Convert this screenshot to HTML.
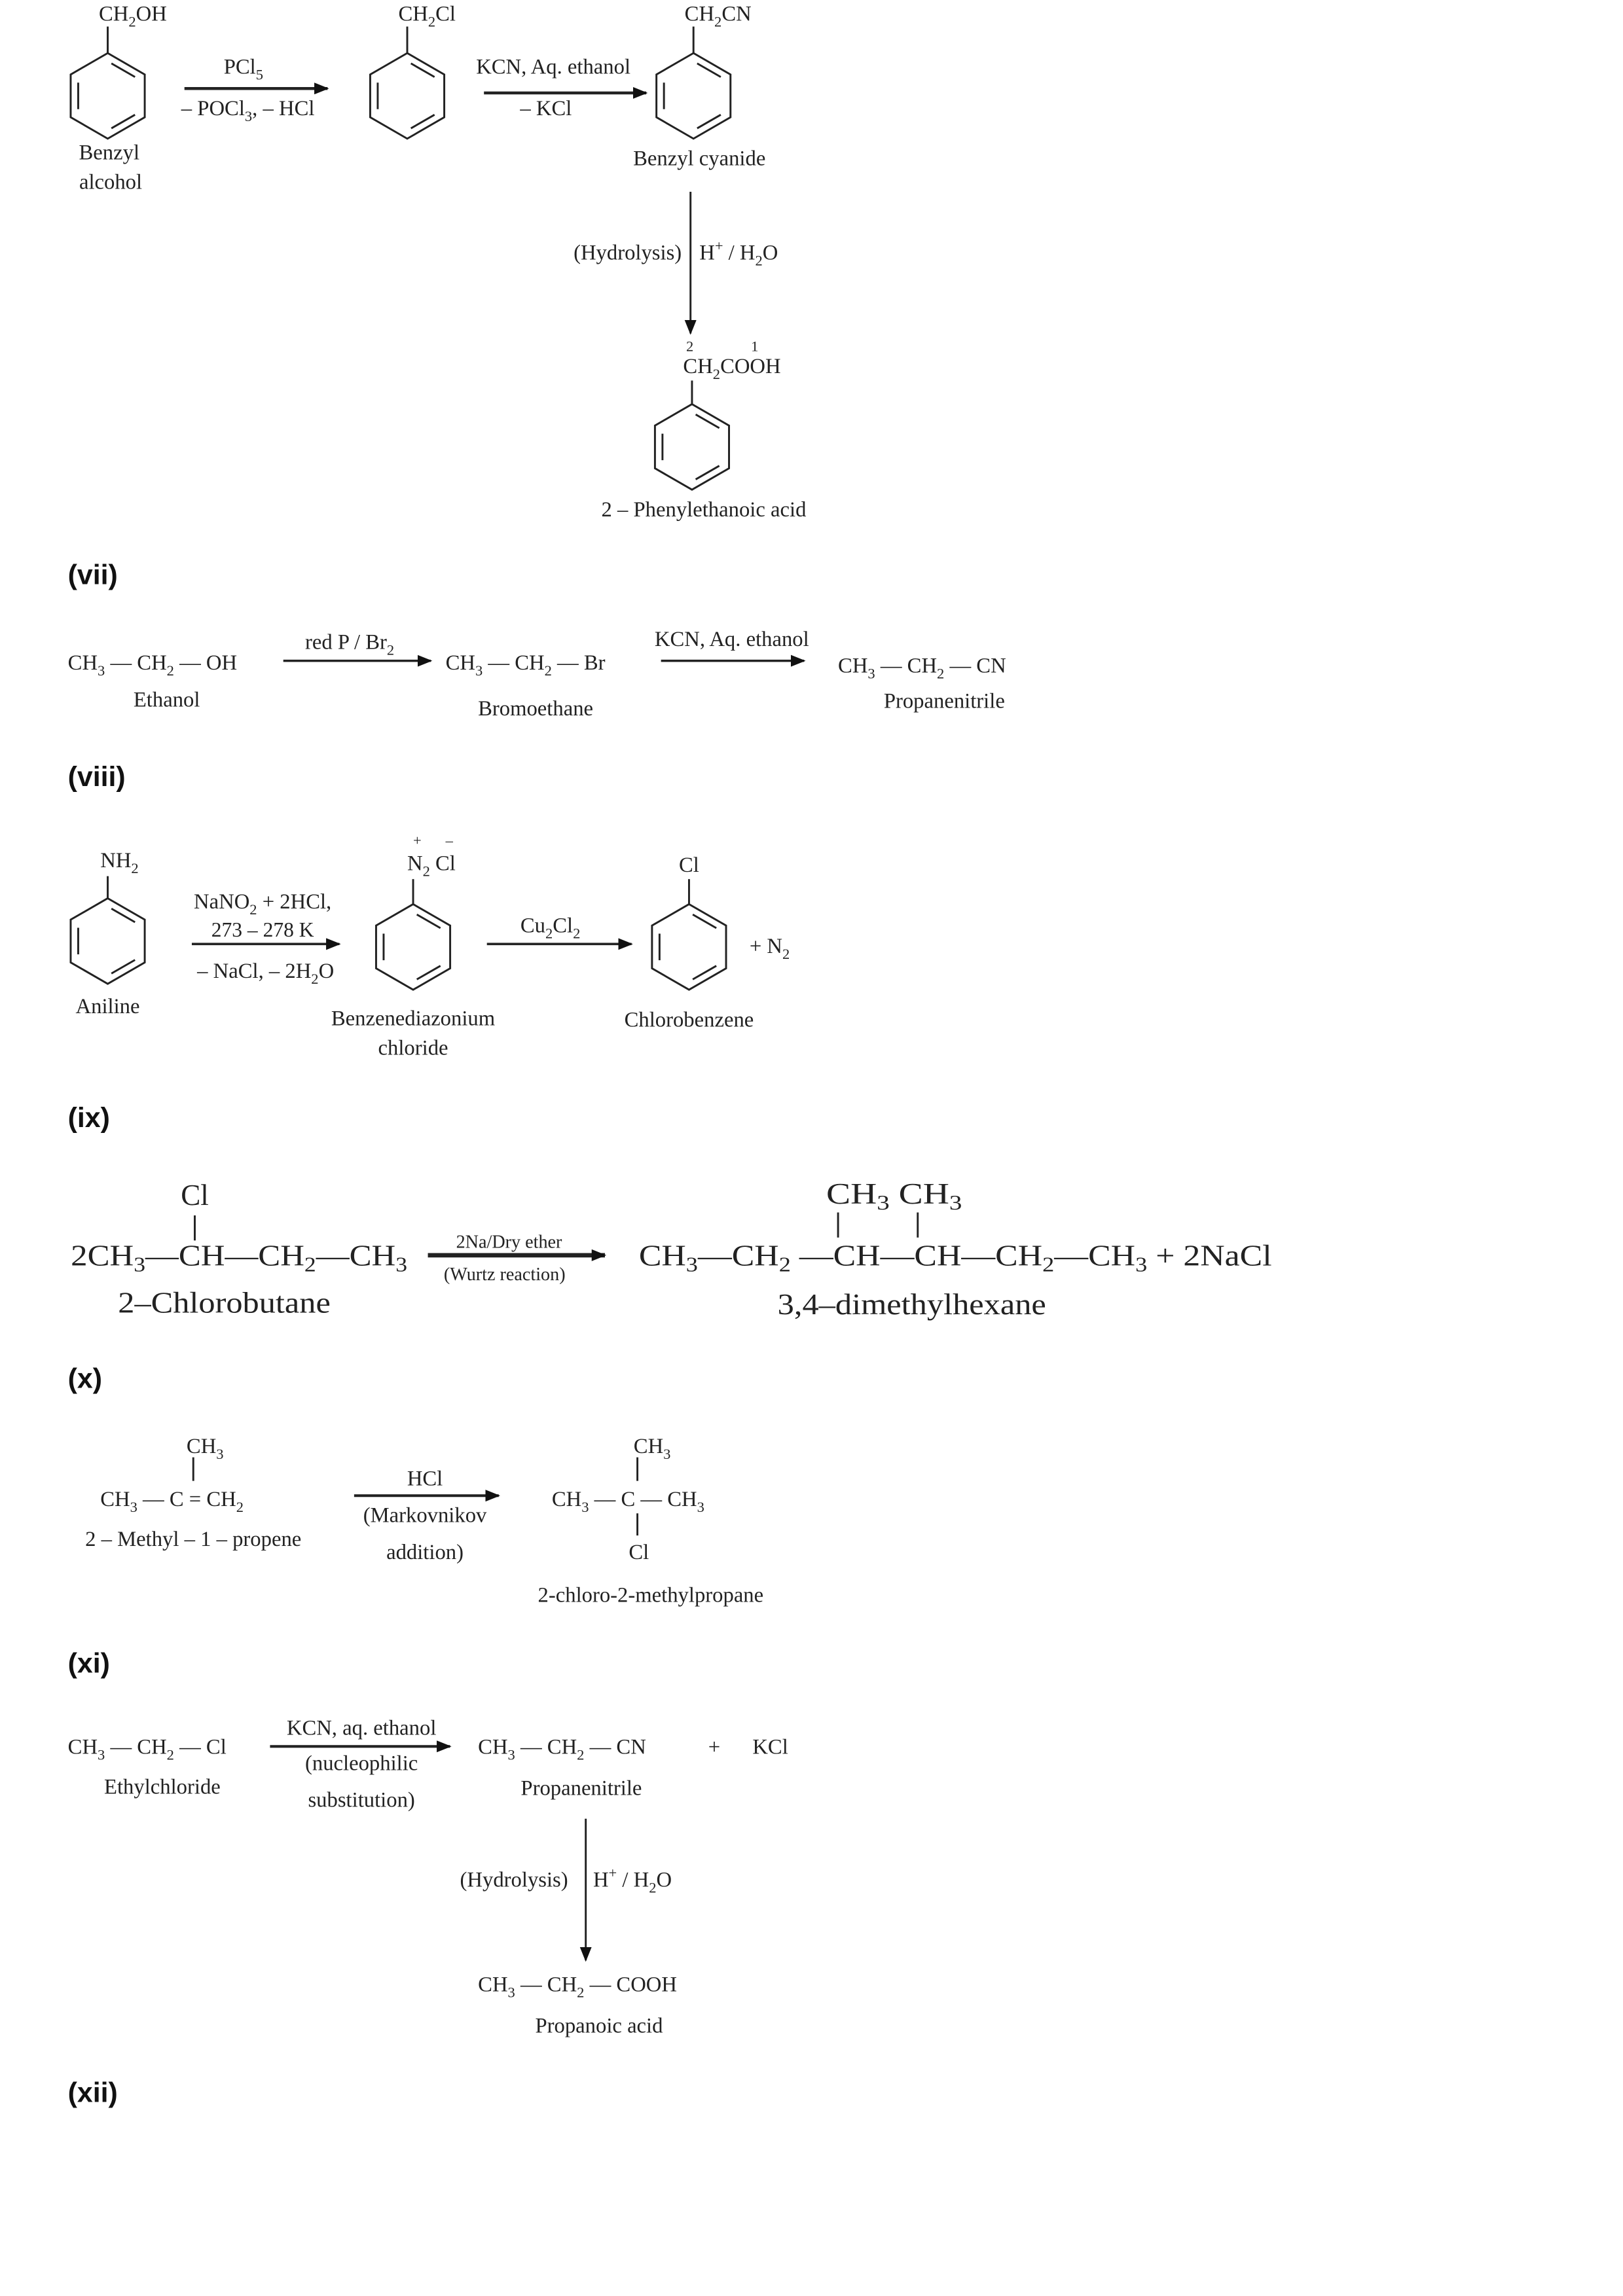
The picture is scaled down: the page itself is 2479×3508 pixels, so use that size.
<!DOCTYPE html>
<html><head><meta charset="utf-8"><style>
html,body{margin:0;padding:0;background:#fff;}
svg{display:block;}
text{font-family:"Liberation Serif",serif;fill:#222;font-size:14.5px;}
.b{font-family:"Liberation Sans",sans-serif;font-weight:bold;font-size:19px;fill:#111;}
.L{font-size:20px;}
.s{font-size:14px;}
.sm{font-size:10px;}
</style></head><body>
<svg width="2479" height="3508" viewBox="0 0 1100 1556.6" xmlns="http://www.w3.org/2000/svg">
<defs>
<marker id="ah" markerWidth="10" markerHeight="8" refX="9" refY="4" orient="auto" markerUnits="userSpaceOnUse"><path d="M0,0 L10,4 L0,8 Z" fill="#111"/></marker>
<g id="bz" fill="none" stroke="#222" stroke-width="1.3">
<path d="M0,-29 L25.1,-14.5 L25.1,14.5 L0,29 L-25.1,14.5 L-25.1,-14.5 Z"/>
<path d="M2.5,-22 L18.5,-12.8 M-20,-9 L-20,9 M18.5,12.8 L2.5,22"/>
</g>
</defs>
<g stroke="#222" stroke-width="1.3" fill="none">
<line x1="73" y1="36" x2="73" y2="18"/>
<line x1="276" y1="36" x2="276" y2="18"/>
<line x1="470" y1="36" x2="470" y2="18"/>
<line x1="125" y1="60" x2="222" y2="60" stroke-width="2" marker-end="url(#ah)"/>
<line x1="328" y1="63" x2="438" y2="63" stroke-width="2" marker-end="url(#ah)"/>
<line x1="468" y1="130" x2="468" y2="226" marker-end="url(#ah)"/>
<line x1="469" y1="274" x2="469" y2="258"/>
</g>
<use href="#bz" x="73" y="65"/>
<use href="#bz" x="276" y="65"/>
<use href="#bz" x="470" y="65"/>
<use href="#bz" x="469" y="303"/>

<text x="67" y="14">CH<tspan class="sm" dy="4">2</tspan><tspan dy="-4">OH</tspan></text>
<text x="270" y="14">CH<tspan class="sm" dy="4">2</tspan><tspan dy="-4">Cl</tspan></text>
<text x="464" y="14">CH<tspan class="sm" dy="4">2</tspan><tspan dy="-4">CN</tspan></text>
<text x="74" y="108" text-anchor="middle">Benzyl</text>
<text x="75" y="128" text-anchor="middle">alcohol</text>
<text x="165" y="50" text-anchor="middle">PCl<tspan class="sm" dy="4">5</tspan></text>
<text x="168" y="78" text-anchor="middle">– POCl<tspan class="sm" dy="4">3</tspan><tspan dy="-4">, – HCl</tspan></text>
<text x="375" y="50" text-anchor="middle">KCN, Aq. ethanol</text>
<text x="370" y="78" text-anchor="middle">– KCl</text>
<text x="474" y="112" text-anchor="middle">Benzyl cyanide</text>
<text x="462" y="176" text-anchor="end">(Hydrolysis)</text>
<text x="474" y="176">H<tspan class="sm" dy="-6">+</tspan><tspan dy="6"> / H</tspan><tspan class="sm" dy="4">2</tspan><tspan dy="-4">O</tspan></text>
<text x="465" y="238" class="sm">2</text>
<text x="509" y="238" class="sm">1</text>
<text x="463" y="253">CH<tspan class="sm" dy="4">2</tspan><tspan dy="-4">COOH</tspan></text>
<text x="477" y="350" text-anchor="middle">2 – Phenylethanoic acid</text>

<g transform="translate(0,-4)">
<text x="46" y="400" class="b">(vii)</text>
<g stroke="#222" stroke-width="1.3" fill="none">
<line x1="192" y1="452" x2="292" y2="452" stroke-width="1.6" marker-end="url(#ah)"/>
<line x1="448" y1="452" x2="545" y2="452" stroke-width="1.6" marker-end="url(#ah)"/>
<line x1="73" y1="613" x2="73" y2="598"/>
<line x1="280" y1="617" x2="280" y2="600"/>
<line x1="467" y1="617" x2="467" y2="600"/>
<line x1="130" y1="644" x2="230" y2="644" stroke-width="1.6" marker-end="url(#ah)"/>
<line x1="330" y1="644" x2="428" y2="644" stroke-width="1.6" marker-end="url(#ah)"/>
<line x1="132" y1="828" x2="132" y2="845"/>
<line x1="568" y1="826" x2="568" y2="843"/>
<line x1="622" y1="826" x2="622" y2="843"/>
<line x1="290" y1="855" x2="410" y2="855" stroke-width="3" marker-end="url(#ah)"/>
<line x1="131" y1="992" x2="131" y2="1008"/>
<line x1="240" y1="1018" x2="338" y2="1018" stroke-width="1.8" marker-end="url(#ah)"/>
<line x1="432" y1="992" x2="432" y2="1008"/>
<line x1="432" y1="1030" x2="432" y2="1045"/>
<line x1="183" y1="1188" x2="305" y2="1188" stroke-width="1.8" marker-end="url(#ah)"/>
<line x1="397" y1="1237" x2="397" y2="1333" marker-end="url(#ah)"/>
</g>
<use href="#bz" x="73" y="642"/>
<use href="#bz" x="280" y="646"/>
<use href="#bz" x="467" y="646"/>

<text x="46" y="458">CH<tspan class="sm" dy="4">3</tspan><tspan dy="-4"> — CH</tspan><tspan class="sm" dy="4">2</tspan><tspan dy="-4"> — OH</tspan></text>
<text x="113" y="483" text-anchor="middle">Ethanol</text>
<text x="237" y="444" text-anchor="middle">red P / Br<tspan class="sm" dy="4">2</tspan></text>
<text x="302" y="458">CH<tspan class="sm" dy="4">3</tspan><tspan dy="-4"> — CH</tspan><tspan class="sm" dy="4">2</tspan><tspan dy="-4"> — Br</tspan></text>
<text x="363" y="489" text-anchor="middle">Bromoethane</text>
<text x="496" y="442" text-anchor="middle">KCN, Aq. ethanol</text>
<text x="568" y="460">CH<tspan class="sm" dy="4">3</tspan><tspan dy="-4"> — CH</tspan><tspan class="sm" dy="4">2</tspan><tspan dy="-4"> — CN</tspan></text>
<text x="640" y="484" text-anchor="middle">Propanenitrile</text>
<text x="46" y="537" class="b">(viii)</text>

<text x="68" y="592">NH<tspan class="sm" dy="4">2</tspan></text>
<text x="73" y="691" text-anchor="middle">Aniline</text>
<text x="178" y="620" text-anchor="middle">NaNO<tspan class="sm" dy="4">2</tspan><tspan dy="-4"> + 2HCl,</tspan></text>
<text x="178" y="639" text-anchor="middle" class="s">273 – 278 K</text>
<text x="180" y="667" text-anchor="middle">– NaCl, – 2H<tspan class="sm" dy="4">2</tspan><tspan dy="-4">O</tspan></text>
<text x="280" y="577" class="sm">+</text>
<text x="302" y="577" class="sm">–</text>
<text x="276" y="594">N<tspan class="sm" dy="4">2</tspan><tspan dy="-4"> Cl</tspan></text>
<text x="280" y="699" text-anchor="middle">Benzenediazonium</text>
<text x="280" y="719" text-anchor="middle">chloride</text>
<text x="373" y="636" text-anchor="middle">Cu<tspan class="sm" dy="4">2</tspan><tspan dy="-4">Cl</tspan><tspan class="sm" dy="4">2</tspan></text>
<text x="467" y="595" text-anchor="middle">Cl</text>
<text x="508" y="650">+  N<tspan class="sm" dy="4">2</tspan></text>
<text x="467" y="700" text-anchor="middle">Chlorobenzene</text>
<text x="46" y="768" class="b">(ix)</text>

<text x="132" y="821" text-anchor="middle" class="L">Cl</text>
<text x="48" y="862" class="L" textLength="228" lengthAdjust="spacingAndGlyphs">2CH<tspan class="s" dy="4">3</tspan><tspan dy="-4">—CH—CH</tspan><tspan class="s" dy="4">2</tspan><tspan dy="-4">—CH</tspan><tspan class="s" dy="4">3</tspan></text>
<text x="80" y="894" class="L" textLength="144" lengthAdjust="spacingAndGlyphs">2–Chlorobutane</text>
<text x="345" y="850" text-anchor="middle" style="font-size:12.5px">2Na/Dry ether</text>
<text x="342" y="872" text-anchor="middle" style="font-size:12.5px">(Wurtz reaction)</text>
<text x="560" y="820" class="L" textLength="92" lengthAdjust="spacingAndGlyphs">CH<tspan class="s" dy="4">3</tspan><tspan dy="-4">  CH</tspan><tspan class="s" dy="4">3</tspan></text>
<text x="433" y="862" class="L" textLength="429" lengthAdjust="spacingAndGlyphs">CH<tspan class="s" dy="4">3</tspan><tspan dy="-4">—CH</tspan><tspan class="s" dy="4">2</tspan><tspan dy="-4"> —CH—CH—CH</tspan><tspan class="s" dy="4">2</tspan><tspan dy="-4">—CH</tspan><tspan class="s" dy="4">3</tspan><tspan dy="-4"> + 2NaCl</tspan></text>
<text x="527" y="895" class="L" textLength="182" lengthAdjust="spacingAndGlyphs">3,4–dimethylhexane</text>
<text x="46" y="945" class="b">(x)</text>

<text x="139" y="989" text-anchor="middle">CH<tspan class="sm" dy="4">3</tspan></text>
<text x="68" y="1025">CH<tspan class="sm" dy="4">3</tspan><tspan dy="-4"> — C = CH</tspan><tspan class="sm" dy="4">2</tspan></text>
<text x="131" y="1052" text-anchor="middle">2 – Methyl – 1 – propene</text>
<text x="288" y="1011" text-anchor="middle">HCl</text>
<text x="288" y="1036" text-anchor="middle">(Markovnikov</text>
<text x="288" y="1061" text-anchor="middle">addition)</text>
<text x="442" y="989" text-anchor="middle">CH<tspan class="sm" dy="4">3</tspan></text>
<text x="374" y="1025">CH<tspan class="sm" dy="4">3</tspan><tspan dy="-4"> — C — CH</tspan><tspan class="sm" dy="4">3</tspan></text>
<text x="433" y="1061" text-anchor="middle">Cl</text>
<text x="441" y="1090" text-anchor="middle">2-chloro-2-methylpropane</text>
<text x="46" y="1138" class="b">(xi)</text>

<text x="46" y="1193">CH<tspan class="sm" dy="4">3</tspan><tspan dy="-4"> — CH</tspan><tspan class="sm" dy="4">2</tspan><tspan dy="-4"> — Cl</tspan></text>
<text x="110" y="1220" text-anchor="middle">Ethylchloride</text>
<text x="245" y="1180" text-anchor="middle">KCN, aq. ethanol</text>
<text x="245" y="1204" text-anchor="middle">(nucleophilic</text>
<text x="245" y="1229" text-anchor="middle">substitution)</text>
<text x="324" y="1193">CH<tspan class="sm" dy="4">3</tspan><tspan dy="-4"> — CH</tspan><tspan class="sm" dy="4">2</tspan><tspan dy="-4"> — CN</tspan></text>
<text x="480" y="1193">+</text>
<text x="510" y="1193">KCl</text>
<text x="394" y="1221" text-anchor="middle">Propanenitrile</text>
<text x="385" y="1283" text-anchor="end">(Hydrolysis)</text>
<text x="402" y="1283">H<tspan class="sm" dy="-6">+</tspan><tspan dy="6"> / H</tspan><tspan class="sm" dy="4">2</tspan><tspan dy="-4">O</tspan></text>
<text x="324" y="1354">CH<tspan class="sm" dy="4">3</tspan><tspan dy="-4"> — CH</tspan><tspan class="sm" dy="4">2</tspan><tspan dy="-4"> — COOH</tspan></text>
<text x="406" y="1382" text-anchor="middle">Propanoic acid</text>
<text x="46" y="1429" class="b">(xii)</text>
</g>
</svg>
</body></html>
